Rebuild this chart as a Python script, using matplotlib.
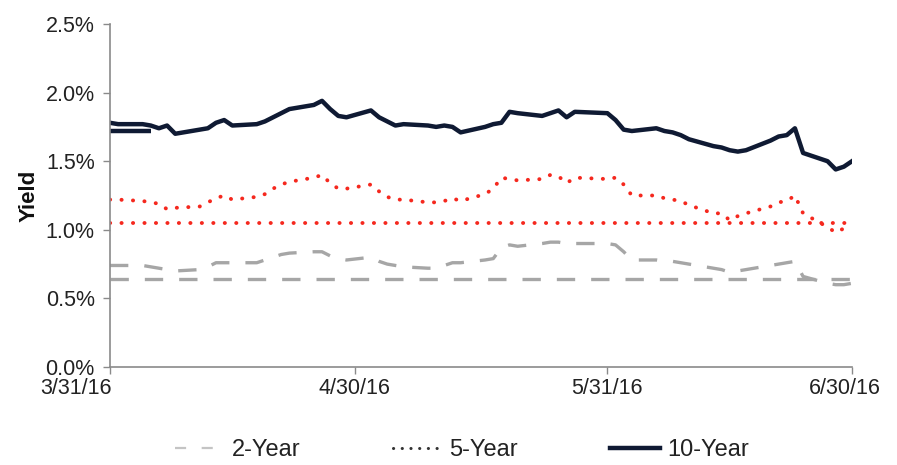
import matplotlib
matplotlib.use("Agg")
import matplotlib.pyplot as plt
import matplotlib.transforms as mtransforms
from matplotlib.lines import Line2D
import pandas as pd

# ---------------- data ----------------
dates = [d for d in pd.bdate_range("2016-03-31", "2016-06-30") if d != pd.Timestamp("2016-05-30")]

two_year = [0.74, 0.74, 0.74, 0.73, 0.72, 0.71, 0.70,
            0.71, 0.73, 0.76, 0.76, 0.76,
            0.76, 0.78, 0.80, 0.82, 0.83,
            0.84, 0.84, 0.81, 0.79, 0.78,
            0.80, 0.77, 0.75, 0.74, 0.73,
            0.72, 0.72, 0.74, 0.76, 0.76,
            0.78, 0.79, 0.87, 0.89, 0.88,
            0.90, 0.91, 0.91, 0.90, 0.90,
            0.90, 0.89, 0.84, 0.78,
            0.78, 0.77, 0.77, 0.76, 0.75,
            0.72, 0.71, 0.69, 0.70, 0.71,
            0.74, 0.75, 0.76, 0.77, 0.66,
            0.61, 0.60, 0.60, 0.61]

five_year = [1.22, 1.22, 1.21, 1.20, 1.19, 1.15, 1.16,
             1.17, 1.20, 1.23, 1.25, 1.22,
             1.24, 1.26, 1.30, 1.33, 1.35,
             1.38, 1.40, 1.34, 1.30, 1.30,
             1.33, 1.28, 1.24, 1.22, 1.22,
             1.20, 1.20, 1.21, 1.23, 1.21,
             1.26, 1.30, 1.38, 1.37, 1.36,
             1.37, 1.40, 1.39, 1.34, 1.38,
             1.37, 1.38, 1.33, 1.25,
             1.25, 1.23, 1.22, 1.21, 1.18,
             1.12, 1.12, 1.07, 1.10, 1.12,
             1.17, 1.20, 1.21, 1.25, 1.12,
             1.02, 0.98, 1.01, 1.04]

ten_year = [1.78, 1.77, 1.77, 1.76, 1.74, 1.76, 1.70,
            1.73, 1.74, 1.78, 1.80, 1.76,
            1.77, 1.79, 1.82, 1.85, 1.88,
            1.91, 1.94, 1.88, 1.83, 1.82,
            1.87, 1.82, 1.79, 1.76, 1.77,
            1.76, 1.75, 1.76, 1.75, 1.71,
            1.75, 1.77, 1.78, 1.86, 1.85,
            1.83, 1.85, 1.87, 1.82, 1.86,
            1.85, 1.80, 1.73, 1.72,
            1.74, 1.72, 1.71, 1.69, 1.66,
            1.61, 1.60, 1.58, 1.57, 1.58,
            1.65, 1.68, 1.69, 1.74, 1.56,
            1.50, 1.44, 1.46, 1.50]

# reference levels (flat lines)
two_ref = 0.64
five_ref = 1.05
ten_ref = 1.72
ten_ref_end = "2016-04-05"

x_ticks = ["2016-03-31", "2016-04-30", "2016-05-31", "2016-06-30"]
x_tick_labels = ["3/31/16", "4/30/16", "5/31/16", "6/30/16"]
y_ticks = [0.0, 0.5, 1.0, 1.5, 2.0, 2.5]
y_tick_labels = ["0.0%", "0.5%", "1.0%", "1.5%", "2.0%", "2.5%"]
series_names = ["2-Year", "5-Year", "10-Year"]

# ---------------- style ----------------
plt.rcParams['font.family'] = ['Liberation Sans', 'DejaVu Sans']
GRAY = "#a6a6a6"
RED = "#f5281e"
NAVY = "#0f1a33"
AX = "#8a8a8a"

W, H = 897, 465
fig = plt.figure(figsize=(W / 100, H / 100), dpi=100)
ax = fig.add_axes([110 / W, 1 - 367 / H, (852 - 110) / W, (367 - 24) / H])

start, end = pd.Timestamp(dates[0]), pd.Timestamp(dates[-1])

dash2 = (0, (5.5, 4.8))
dot5 = (0, (0.05, 2.9))

# flat reference lines
ax.plot([start, end], [two_ref, two_ref], color=GRAY, lw=2.4, linestyle=dash2, dash_capstyle='butt')
ax.plot([start, end], [five_ref, five_ref], color=RED, lw=2.8, linestyle=dot5, dash_capstyle='round')
ax.plot([start, pd.Timestamp(ten_ref_end)], [ten_ref, ten_ref], color=NAVY, lw=3.2, solid_capstyle='butt')

# series
ax.plot(dates, two_year, color=GRAY, lw=2.4, linestyle=dash2, dash_capstyle='butt')
ax.plot(dates, five_year, color=RED, lw=2.8, linestyle=dot5, dash_capstyle='round')
ax.plot(dates, ten_year, color=NAVY, lw=3.2, solid_joinstyle='round')

ax.set_xlim(pd.Timestamp(x_ticks[0]), pd.Timestamp(x_ticks[-1]))
ax.set_ylim(0, 2.5)
ax.set_xticks([pd.Timestamp(t) for t in x_ticks])
ax.set_xticklabels(x_tick_labels)
ax.set_yticks(y_ticks)
ax.set_yticklabels(y_tick_labels)

for s in ["top", "right"]:
    ax.spines[s].set_visible(False)
for s in ["left", "bottom"]:
    ax.spines[s].set_color(AX)
    ax.spines[s].set_linewidth(1.2)
ax.tick_params(axis='both', colors=AX, labelcolor="#222222", labelsize=15.5, direction='out', length=5, width=1)
ax.tick_params(axis='y', pad=6)
ax.tick_params(axis='x', pad=3)
ax.set_ylabel("Yield", fontsize=16, fontweight='bold', color="#111111", labelpad=4)

# end labels shifted as in the reference
xl = ax.get_xticklabels()
xl[0].set_transform(xl[0].get_transform() + mtransforms.ScaledTranslation(-34 / 100, 0, fig.dpi_scale_trans))
xl[-1].set_transform(xl[-1].get_transform() + mtransforms.ScaledTranslation(-7 / 100, 0, fig.dpi_scale_trans))

# legend
h2 = Line2D([], [], color="#c4c4c4", lw=1.6, linestyle=(0, (5, 7)))
h5 = Line2D([], [], color="#333333", lw=2.2, linestyle=(0, (0.05, 2.8)), dash_capstyle='round')
h10 = Line2D([], [], color=NAVY, lw=3.2)
fig.legend([h2, h5, h10], series_names, loc='center', bbox_to_anchor=(0.515, 1 - 450 / H),
           ncol=3, frameon=False, fontsize=17, handlelength=2.1, handletextpad=0.3,
           columnspacing=3.9, labelcolor="#222222", borderpad=0.2)

fig.savefig("out.png", dpi=100)
